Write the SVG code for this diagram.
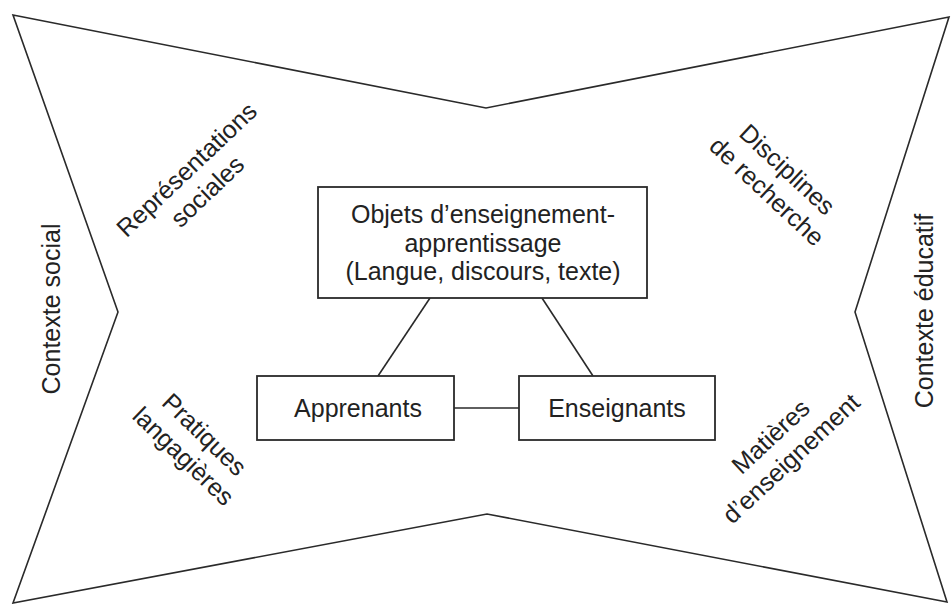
<svg xmlns="http://www.w3.org/2000/svg" width="951" height="604" viewBox="0 0 951 604">
<style>
.ln{fill:none;stroke:#2a2a2a;stroke-width:1.6;stroke-linejoin:miter}
.bx{fill:#fff;stroke:#2a2a2a;stroke-width:1.8}
.t{font-family:"Liberation Sans",Arial,sans-serif;font-size:25px;fill:#222;text-anchor:middle}
.o{font-family:"Liberation Sans",Arial,sans-serif;font-size:25px;fill:#222;text-anchor:middle}
</style>
<rect width="951" height="604" fill="#fff"/>
<g id="frame">
<polygon class="ln" points="13,15 486,108 949,17 855,312 947,602 487,514 13,603 118,312"/>
</g>
<g id="connectors">
<line class="ln" x1="430" y1="298" x2="378" y2="376"/>
<line class="ln" x1="542" y1="298" x2="593" y2="376"/>
<line class="ln" x1="454" y1="408" x2="519" y2="408"/>
</g>
<g id="objets">
<rect class="bx" x="318" y="187" width="329" height="111"/>
<text class="t" x="483" y="223">Objets d’enseignement-</text>
<text class="t" x="483" y="252">apprentissage</text>
<text class="t" x="483" y="280">(Langue, discours, texte)</text>
</g>
<g id="apprenants">
<rect class="bx" x="257" y="376" width="197" height="64"/>
<text class="t" x="358" y="417">Apprenants</text>
</g>
<g id="enseignants">
<rect class="bx" x="519" y="376" width="196" height="64"/>
<text class="t" x="617" y="417">Enseignants</text>
</g>
<g id="contexte-social">
<text class="o" transform="translate(51,309) rotate(-90)" y="9">Contexte social</text>
</g>
<g id="contexte-educatif">
<text class="o" transform="translate(924,311) rotate(-90)" y="9">Contexte éducatif</text>
</g>
<g id="representations">
<g transform="translate(187,170) rotate(-43.5)">
<text class="o" y="8">Représentations</text>
<text class="o" y="38">sociales</text>
</g>
</g>
<g id="disciplines">
<g transform="translate(787,170) rotate(43)">
<text class="o" y="8">Disciplines</text>
<text class="o" y="38">de recherche</text>
</g>
</g>
<g id="pratiques">
<g transform="translate(204,435) rotate(44)">
<text class="o" y="8">Pratiques</text>
<text class="o" y="38">langagières</text>
</g>
</g>
<g id="matieres">
<g transform="translate(771,437) rotate(-43)">
<text class="o" y="8">Matières</text>
<text class="o" y="38">d’enseignement</text>
</g>
</g>
</svg>
